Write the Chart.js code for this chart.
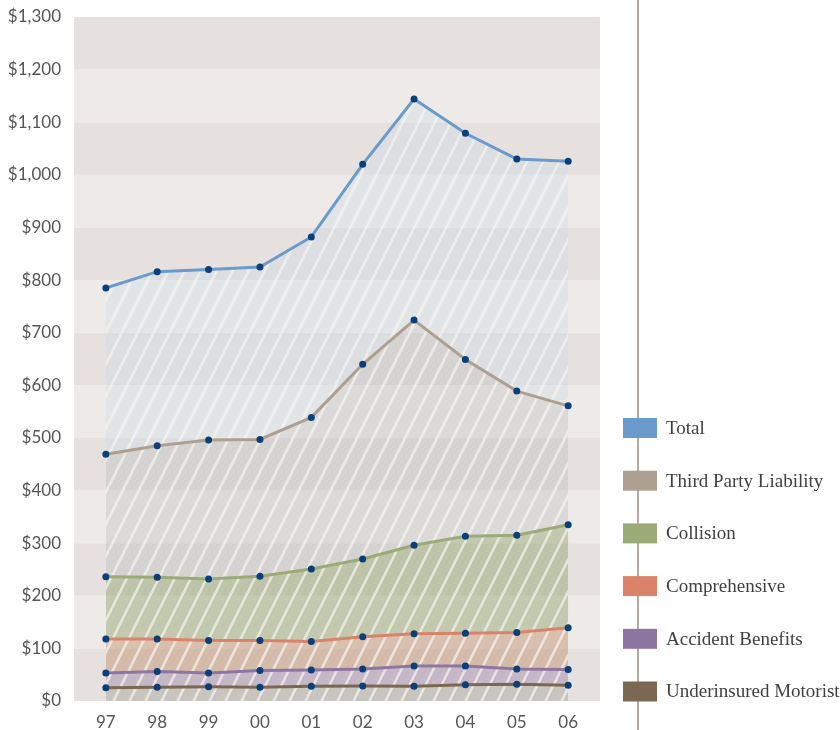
<!DOCTYPE html>
<html>
<head>
    <meta charset="UTF-8">
    <title>Premiums</title>
    <script src="https://cdn.jsdelivr.net/npm/chart.js@4.4.0/dist/chart.umd.min.js"></script>
    <style>
        body { margin: 0; background: #fff; }
        canvas { display: block; }
    </style>
</head>
<body>
    <canvas id="myChart" width="840" height="730"></canvas>
    <script>
        var years = ['97', '98', '99', '00', '01', '02', '03', '04', '05', '06'];

        var underinsured = [25, 26, 27, 26, 28, 28.5, 28, 31, 32, 30];
        var accident = [53, 56, 53, 58, 59, 61, 66.5, 66.5, 61, 60];
        var comprehensive = [118, 118, 115, 115, 113, 122, 128, 129, 130, 139];
        var collision = [236, 235, 232, 237, 251, 270, 296, 313, 315, 335];
        var thirdParty = [469, 485, 496, 497, 539, 640, 724, 649, 589, 561];
        var total = [785, 816, 820, 825, 882, 1020, 1144, 1079, 1030, 1026];

        var yTicks = [0, 100, 200, 300, 400, 500, 600, 700, 800, 900, 1000, 1100, 1200, 1300];

        // series, bottom to top (legend shows them reversed)
        var names = ['Underinsured Motorist', 'Accident Benefits', 'Comprehensive', 'Collision', 'Third Party Liability', 'Total'];
        var lineColors = ['#7a6852', '#8e76a2', '#d9846a', '#9aab78', '#ada090', '#6a9bcb'];
        var fillColors = ['rgba(133,132,125,0.3)', 'rgba(157,132,169,0.45)', 'rgba(190,143,105,0.45)',
            'rgba(140,161,104,0.45)', 'rgba(165,170,175,0.25)', 'rgba(190,215,235,0.25)'];
        var seriesValues = [underinsured, accident, comprehensive, collision, thirdParty, total];

        function hatch(color) {
            var c = document.createElement('canvas');
            c.width = 16;
            c.height = 32;
            var g = c.getContext('2d');
            g.fillStyle = color;
            g.fillRect(0, 0, 16, 32);
            g.strokeStyle = 'rgba(246,243,239,0.75)';
            g.lineWidth = 2.5;
            for (var k = -1; k <= 1; k++) {
                g.beginPath();
                g.moveTo(k * 16, 32);
                g.lineTo(k * 16 + 16, 0);
                g.stroke();
            }
            return g.createPattern(c, 'repeat');
        }

        var datasets = seriesValues.map(function (vals, i) {
            return {
                label: names[i],
                data: vals.map(function (v, j) { return { x: j, y: v }; }),
                borderColor: lineColors[i],
                borderWidth: 3,
                backgroundColor: hatch(fillColors[i]),
                fill: i === 0 ? 'origin' : '-1',
                tension: 0,
                pointRadius: 3.5,
                pointBackgroundColor: '#0a3f7a',
                pointBorderWidth: 0
            };
        });

        var bands = {
            id: 'bands',
            beforeDraw: function (chart) {
                var ctx = chart.ctx, a = chart.chartArea, y = chart.scales.y;
                ctx.save();
                for (var i = 0; i < yTicks.length - 1; i++) {
                    var top = y.getPixelForValue(yTicks[i + 1]);
                    var bot = y.getPixelForValue(yTicks[i]);
                    ctx.fillStyle = i % 2 === 0 ? '#e6e1de' : '#eeeae7';
                    ctx.fillRect(a.left, top, a.right - a.left, bot - top);
                }
                ctx.restore();
            }
        };

        var sideLegend = {
            id: 'sideLegend',
            afterDraw: function (chart) {
                var ctx = chart.ctx;
                ctx.save();
                ctx.strokeStyle = '#b3a99e';
                ctx.lineWidth = 2;
                ctx.beginPath();
                ctx.moveTo(638, 0);
                ctx.lineTo(638, 730);
                ctx.stroke();
                ctx.font = '19px "Liberation Serif"';
                ctx.textBaseline = 'middle';
                var n = names.length;
                for (var i = 0; i < n; i++) {
                    var idx = n - 1 - i;
                    var cy = 428 + i * 52.7;
                    ctx.fillStyle = lineColors[idx];
                    ctx.fillRect(623, cy - 10, 34, 20);
                    ctx.fillStyle = '#3f3f3f';
                    ctx.fillText(names[idx], 666, cy + 1);
                }
                ctx.restore();
            }
        };

        var tickFont = { family: 'Lato', size: 17 };

        new Chart(document.getElementById('myChart'), {
            type: 'line',
            data: { datasets: datasets },
            options: {
                responsive: false,
                animation: false,
                layout: { padding: { top: 17, right: 240, left: 0, bottom: 0 } },
                plugins: {
                    legend: { display: false },
                    tooltip: { enabled: false },
                    filler: { propagate: false }
                },
                scales: {
                    x: {
                        type: 'linear',
                        min: -0.62,
                        max: 9.62,
                        grid: { display: false, drawTicks: false },
                        border: { display: false },
                        afterBuildTicks: function (scale) {
                            scale.ticks = years.map(function (_, i) { return { value: i }; });
                        },
                        afterFit: function (scale) {
                            scale.height = 29;
                            scale.paddingLeft = 0;
                            scale.paddingRight = 0;
                        },
                        ticks: {
                            color: '#555',
                            font: tickFont,
                            padding: 11,
                            maxRotation: 0,
                            autoSkip: false,
                            callback: function (v) { return years[v]; }
                        }
                    },
                    y: {
                        min: 0,
                        max: 1300,
                        grid: { display: false, drawTicks: false },
                        border: { display: false },
                        afterBuildTicks: function (scale) {
                            scale.ticks = yTicks.map(function (v) { return { value: v }; });
                        },
                        afterFit: function (scale) {
                            scale.width = 74;
                            scale.paddingTop = 0;
                            scale.paddingBottom = 0;
                        },
                        ticks: {
                            color: '#555',
                            font: tickFont,
                            padding: 13,
                            callback: function (v) { return '$' + v.toLocaleString('en-US'); }
                        }
                    }
                }
            },
            plugins: [bands, sideLegend]
        });
    </script>
</body>
</html>
